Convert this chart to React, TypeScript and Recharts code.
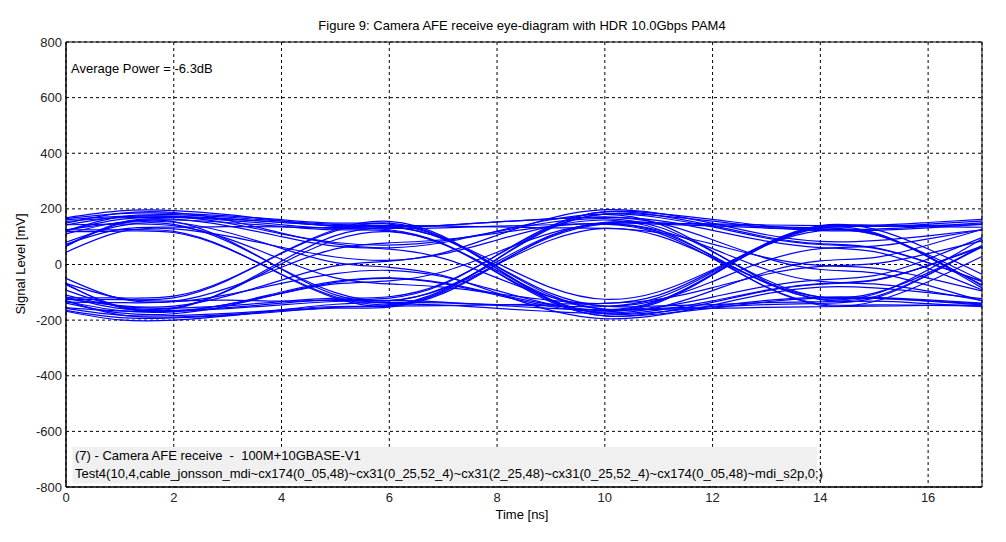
import { LineChart, Line, XAxis, YAxis, CartesianGrid, ReferenceArea } from 'recharts';

// sample times [ns]
const timeNs = [0, 1, 2, 3, 4, 5, 6, 7, 8, 9, 10, 11, 12, 13, 14, 15, 16, 17];
const xTicks = [0, 2, 4, 6, 8, 10, 12, 14, 16];
const yTicks = [-800, -600, -400, -200, 0, 200, 400, 600, 800];

// traces that sit in the upper half of the first big eye (mV)
const upperTraces = [
  [165, 183, 184, 175, 161, 149, 145, 96, -8, -111, -160, -158, -152, -144, -140, -121, -38, 68],
  [161, 173, 174, 165, 151, 139, 135, 141, 153, 164, 170, 158, 123, 84, 61, 46, -14, -91],
  [68, 146, 154, 88, -17, -109, -140, -146, -158, -169, -175, -154, -94, -27, 13, 25, 70, 126],
  [149, 184, 187, 159, 113, 74, 60, 79, 120, 161, 180, 146, 48, -62, -126, -132, -141, -152],
  [80, 139, 144, 83, -15, -101, -130, -85, 10, 105, 150, 149, 146, 142, 140, 139, 136, 134],
  [121, 162, 169, 159, 143, 130, 125, 75, -30, -135, -185, -172, -136, -95, -71, -57, -3, 66],
  [44, 117, 128, 102, 62, 27, 15, 38, 88, 137, 160, 126, 28, -82, -146, -133, -62, 29],
  [143, 145, 140, 93, 18, -48, -70, -81, -105, -129, -140, -110, -23, 75, 132, 115, 27, -84],
  [121, 171, 179, 170, 156, 144, 140, 138, 135, 132, 130, 115, 73, 25, -3, -13, -49, -95],
  [125, 125, 119, 59, -37, -121, -150, -96, 20, 136, 190, 183, 162, 139, 126, 127, 137, 150],
  [65, 150, 163, 139, 100, 66, 55, 22, -48, -117, -150, -127, -61, 14, 57, 66, 92, 125],
  [125, 150, 152, 115, 58, 7, -10, -40, -103, -165, -195, -182, -146, -105, -81, -84, -101, -123],
  [168, 193, 194, 179, 157, 137, 130, 132, 138, 143, 145, 113, 22, -81, -142, -145, -147, -149],
  [73, 126, 134, 136, 135, 133, 135, 93, 5, -83, -125, -98, -19, 70, 122, 108, 35, -58],
  [155, 168, 170, 163, 151, 141, 138, 92, -6, -104, -150, -149, -144, -137, -134, -116, -36, 64],
  [142, 170, 172, 149, 110, 79, 70, 85, 118, 152, 165, 135, 46, -56, -117, -121, -131, -141],
  [110, 152, 160, 151, 137, 125, 121, 73, -28, -128, -176, -164, -131, -92, -69, -55, -4, 62],
  [118, 120, 115, 57, -35, -116, -144, -92, 19, 130, 182, 176, 156, 134, 122, 123, 132, 145],
];

// traces that sit in the lower half of the first big eye (mV)
const lowerTraces = [
  [-165, -191, -192, -183, -169, -157, -153, -104, 0, 103, 152, 150, 144, 136, 132, 113, 30, -76],
  [-155, -167, -168, -159, -145, -133, -129, -135, -147, -158, -164, -152, -117, -78, -55, -40, 20, 97],
  [-73, -151, -159, -93, 12, 104, 135, 141, 153, 164, 170, 149, 89, 22, -18, -30, -75, -131],
  [-139, -174, -177, -149, -103, -64, -50, -69, -110, -151, -170, -136, -38, 72, 136, 142, 151, 162],
  [-92, -151, -156, -95, 3, 89, 118, 73, -22, -117, -162, -161, -158, -154, -152, -150, -147, -146],
  [-117, -158, -165, -155, -139, -126, -121, -71, 34, 139, 189, 176, 140, 99, 75, 61, 7, -62],
  [-50, -123, -134, -108, -68, -33, -21, -44, -94, -143, -166, -132, -34, 76, 140, 127, 56, -35],
  [-135, -137, -132, -85, -10, 56, 78, 89, 113, 137, 148, 118, 31, -67, -124, -107, -19, 92],
  [-131, -181, -189, -180, -166, -154, -150, -148, -145, -142, -140, -125, -83, -35, -7, 3, 39, 85],
  [-120, -120, -114, -54, 42, 126, 155, 101, -15, -131, -185, -178, -157, -134, -121, -122, -132, -145],
  [-69, -154, -167, -143, -104, -70, -59, -26, 44, 113, 146, 123, 57, -18, -61, -70, -96, -129],
  [-123, -148, -150, -113, -56, -5, 12, 42, 105, 167, 197, 184, 148, 107, 83, 86, 103, 125],
  [-168, -199, -200, -185, -163, -143, -136, -138, -144, -149, -151, -119, -28, 75, 136, 139, 141, 143],
  [-68, -121, -131, -128, -132, -129, -130, -88, 0, 88, 130, 103, 24, -65, -117, -103, -30, 63],
  [-158, -182, -184, -176, -163, -151, -147, -100, 2, 99, 146, 145, 139, 131, 127, 109, 28, -73],
  [-132, -166, -170, -143, -99, -61, -48, -66, -106, -145, -163, -130, -36, 69, 131, 137, 145, 156],
  [-110, -150, -157, -148, -133, -121, -116, -68, 33, 133, 181, 169, 135, 95, 72, 59, 6, -60],
  [-126, -126, -120, -57, 40, 121, 149, 97, -14, -126, -178, -171, -151, -129, -117, -118, -127, -139],
];

const allTraces = [...upperTraces, ...lowerTraces];

const rows = timeNs.map((t, i) => {
  const row: Record<string, number> = { t };
  allTraces.forEach((tr, k) => {
    row[`s${k}`] = tr[i];
  });
  return row;
});

const font = '"Liberation Sans", Arial, sans-serif';

export default function App() {
  return (
    <div
      style={{
        position: 'absolute',
        left: 0,
        top: 0,
        width: 1006,
        height: 542,
        background: '#fff',
        fontFamily: font,
        color: '#000',
      }}
    >
      <LineChart width={1006} height={542} data={rows} margin={{ top: 42, right: 24, bottom: 25, left: 0 }}>
        <CartesianGrid stroke="#000" strokeDasharray="3 3" />
        <XAxis
          dataKey="t"
          type="number"
          domain={[0, 17]}
          ticks={xTicks}
          height={30}
          tickSize={4}
          tickMargin={2}
          tickLine={false}
          axisLine={{ stroke: '#000' }}
          tick={{ fill: '#222', fontSize: 13 }}
          interval={0}
        />
        <YAxis
          type="number"
          domain={[-800, 800]}
          ticks={yTicks}
          width={66}
          tickSize={4}
          tickMargin={0}
          tickLine={false}
          axisLine={{ stroke: '#000' }}
          tick={{ fill: '#222', fontSize: 13 }}
          interval={0}
        />
        <ReferenceArea x1={0.12} x2={13.94} y1={-787} y2={-655} fill="#f0f0f0" fillOpacity={1} stroke="none" />
        <ReferenceArea x1={0} x2={17} y1={-800} y2={800} fill="none" stroke="#000" strokeWidth={1} />
        {allTraces.map((_, k) => (
          <Line
            key={k}
            dataKey={`s${k}`}
            type="natural"
            stroke="#0000ff"
            strokeWidth={1.2}
            dot={false}
            activeDot={false}
            isAnimationActive={false}
          />
        ))}
      </LineChart>

      <div style={{ position: 'absolute', left: 66, top: 18, width: 912, textAlign: 'center', fontSize: 13, lineHeight: '15px' }}>
        Figure 9: Camera AFE receive eye-diagram with HDR 10.0Gbps PAM4
      </div>
      <div style={{ position: 'absolute', left: 71, top: 61, fontSize: 13, lineHeight: '15px', whiteSpace: 'nowrap' }}>
        Average Power = -6.3dB
      </div>
      <div style={{ position: 'absolute', left: 75, top: 448, fontSize: 13, lineHeight: '15px', whiteSpace: 'pre' }}>
        {'(7) - Camera AFE receive  -  100M+10GBASE-V1'}
      </div>
      <div style={{ position: 'absolute', left: 75, top: 466, fontSize: 13, lineHeight: '15px', whiteSpace: 'nowrap' }}>
        Test4(10,4,cable_jonsson_mdi~cx174(0_05,48)~cx31(0_25,52_4)~cx31(2_25,48)~cx31(0_25,52_4)~cx174(0_05,48)~mdi_s2p,0;)
      </div>
      <div style={{ position: 'absolute', left: 422, top: 507, width: 200, textAlign: 'center', fontSize: 13, lineHeight: '15px' }}>
        Time [ns]
      </div>
      <div
        style={{
          position: 'absolute',
          left: 20,
          top: 264,
          fontSize: 13,
          lineHeight: '15px',
          whiteSpace: 'nowrap',
          transform: 'translate(-50%, -50%) rotate(-90deg)',
        }}
      >
        Signal Level [mV]
      </div>
    </div>
  );
}
